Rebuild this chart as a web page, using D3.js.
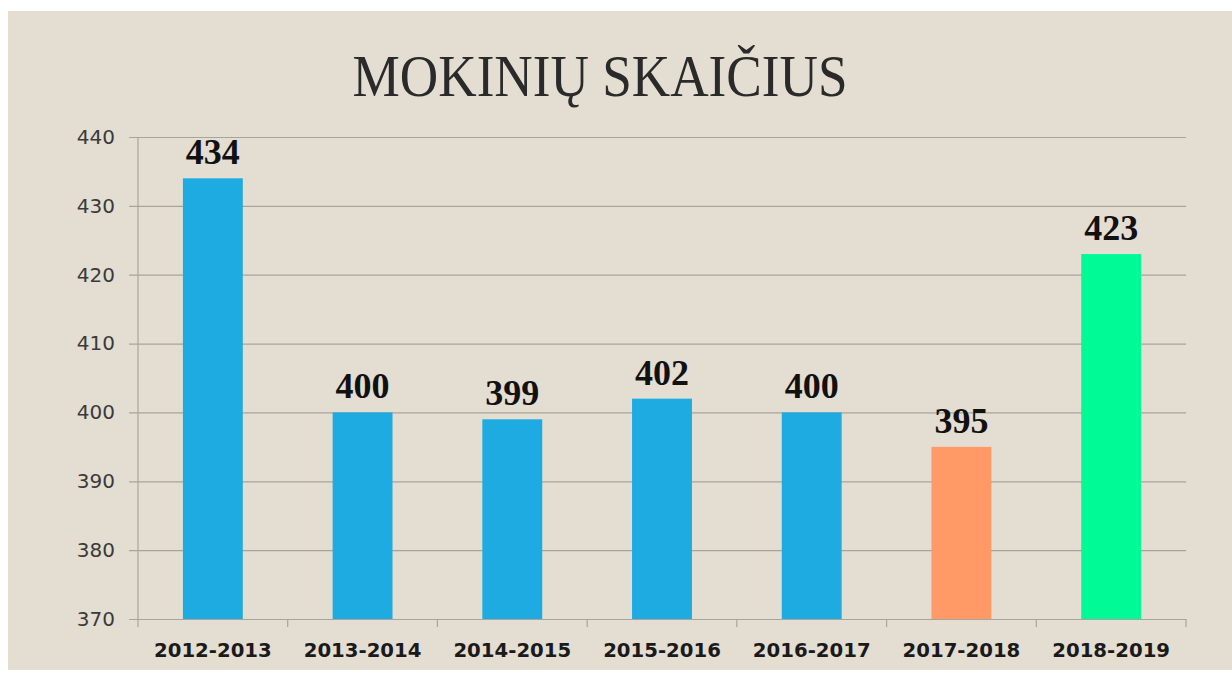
<!DOCTYPE html>
<html><head><meta charset="utf-8">
<script src="https://cdn.jsdelivr.net/npm/d3@7"></script>
<style>html,body{margin:0;padding:0;background:#fff;}svg{display:block;}</style>
</head><body>
<script>
const categories = ["2012-2013","2013-2014","2014-2015","2015-2016","2016-2017","2017-2018","2018-2019"];
const values = [434, 400, 399, 402, 400, 395, 423];
const barColors = ["#1EABE2","#1EABE2","#1EABE2","#1EABE2","#1EABE2","#FF9966","#00FA96"];
const yTicks = [370, 380, 390, 400, 410, 420, 430, 440];
const title = "MOKINIŲ SKAIČIUS";

(function(){
const W = 1232, H = 673;
const svg = d3.select("body").append("svg").attr("width", W).attr("height", H);
svg.append("rect").attr("x", 8).attr("y", 11).attr("width", W - 8).attr("height", 659).attr("fill", "#E3DDD2");

const pL = 138, pR = 1186, pT = 137, pB = 619;
const x = d3.scaleBand().domain(categories).range([pL, pR]).paddingInner(0.6).paddingOuter(0.3);
const y = d3.scaleLinear().domain([370, 440]).range([pB, pT]);

svg.append("text").attr("x", 600).attr("y", 96).attr("text-anchor", "middle")
  .attr("font-family", "Liberation Serif, Times New Roman, serif").attr("font-size", 60)
  .attr("fill", "#2a2a2a").attr("textLength", 495).attr("lengthAdjust", "spacingAndGlyphs").text(title);

// gridlines
const yAxis = d3.axisLeft(y).tickValues(yTicks).tickSize(-(pR - pL)).tickPadding(23);
const gy = svg.append("g").attr("transform", `translate(${pL},0)`).call(yAxis);
gy.select(".domain").remove();
gy.selectAll(".tick line").attr("x1", -9).attr("stroke", "#A9A49B").attr("stroke-width", 1.2);
gy.selectAll(".tick text").attr("font-family", "DejaVu Sans, sans-serif").attr("font-size", 20)
  .attr("fill", "#3a3a3a");
svg.append("line").attr("x1", pL).attr("x2", pL).attr("y1", pT).attr("y2", pB)
  .attr("stroke", "#A9A49B").attr("stroke-width", 1.2);

// x axis
const band = (pR - pL) / categories.length;
const gx = svg.append("g").attr("transform", `translate(0,${pB})`)
  .call(d3.axisBottom(x).tickSize(0).tickPadding(24));
gx.select(".domain").attr("stroke", "#A9A49B").attr("stroke-width", 1.2);
gx.selectAll(".tick text").attr("font-family", "DejaVu Sans, sans-serif").attr("font-weight", "bold")
  .attr("font-size", 19.7).attr("fill", "#1a1a1a");
const boundaries = d3.range(categories.length + 1).map(i => pL + i * band);
svg.append("g").selectAll("line").data(boundaries).join("line")
  .attr("x1", d => d).attr("x2", d => d).attr("y1", pB).attr("y2", pB + 8)
  .attr("stroke", "#A9A49B").attr("stroke-width", 1.2);

// bars
svg.append("g").selectAll("rect").data(values).join("rect")
  .attr("x", (d, i) => x(categories[i])).attr("width", x.bandwidth())
  .attr("y", d => y(d)).attr("height", d => pB - y(d))
  .attr("fill", (d, i) => barColors[i]);

// labels
svg.append("g").selectAll("text").data(values).join("text")
  .attr("x", (d, i) => x(categories[i]) + x.bandwidth() / 2).attr("y", d => y(d) - 14)
  .attr("text-anchor", "middle").attr("font-family", "Liberation Serif, Times New Roman, serif")
  .attr("font-weight", "bold").attr("font-size", 36).attr("fill", "#111").text(d => d);
})();
</script>
</body></html>
